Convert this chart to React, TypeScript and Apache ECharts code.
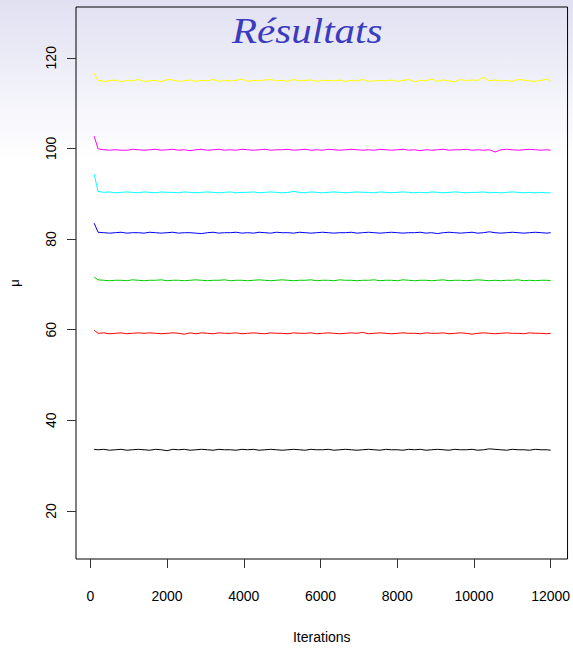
import React, { useEffect, useRef } from "react";
import * as echarts from "echarts";

const iterations = [
  100, 200, 350, 500, 650, 800, 950, 1100, 1250, 1400,
  1550, 1700, 1850, 2000, 2150, 2300, 2450, 2600, 2750, 2900,
  3050, 3200, 3350, 3500, 3650, 3800, 3950, 4100, 4250, 4400,
  4550, 4700, 4850, 5000, 5150, 5300, 5450, 5600, 5750, 5900,
  6050, 6200, 6350, 6500, 6650, 6800, 6950, 7100, 7250, 7400,
  7550, 7700, 7850, 8000, 8150, 8300, 8450, 8600, 8750, 8900,
  9050, 9200, 9350, 9500, 9650, 9800, 9950, 10100, 10250, 10400,
  10550, 10700, 10850, 11000, 11150, 11300, 11450, 11600, 11750, 11900,
  12000,
];

const muBlack = [
  33.6, 33.5, 33.6, 33.4, 33.5, 33.6, 33.4, 33.5, 33.6, 33.5,
  33.4, 33.6, 33.5, 33.3, 33.6, 33.5, 33.6, 33.4, 33.5, 33.6,
  33.5, 33.4, 33.6, 33.5, 33.5, 33.4, 33.6, 33.5, 33.6, 33.4,
  33.5, 33.6, 33.5, 33.4, 33.5, 33.6, 33.5, 33.4, 33.6, 33.5,
  33.5, 33.6, 33.4, 33.5, 33.6, 33.5, 33.4, 33.5, 33.6, 33.5,
  33.4, 33.6, 33.5, 33.5, 33.4, 33.6, 33.5, 33.6, 33.4, 33.5,
  33.6, 33.5, 33.4, 33.6, 33.5, 33.5, 33.6, 33.4, 33.5, 33.7,
  33.6, 33.5, 33.4, 33.6, 33.5, 33.5, 33.4, 33.6, 33.5, 33.5,
  33.4,
];

const muRed = [
  59.9, 59.2, 59.3, 59.1, 59.2, 59.3, 59.1, 59.2, 59.3, 59.2,
  59.3, 59.2, 59.1, 59.2, 59.3, 59.2, 59.0, 59.3, 59.1, 59.3,
  59.2, 59.1, 59.3, 59.2, 59.2, 59.3, 59.1, 59.2, 59.3, 59.2,
  59.1, 59.3, 59.2, 59.2, 59.1, 59.3, 59.2, 59.2, 59.3, 59.1,
  59.2, 59.3, 59.2, 59.1, 59.2, 59.3, 59.2, 59.4, 59.1, 59.2,
  59.3, 59.2, 59.1, 59.2, 59.3, 59.2, 59.2, 59.1, 59.3, 59.2,
  59.2, 59.3, 59.1, 59.2, 59.3, 59.2, 59.0, 59.2, 59.3, 59.2,
  59.1, 59.2, 59.3, 59.2, 59.2, 59.1, 59.3, 59.2, 59.2, 59.1,
  59.2,
];

const muGreen = [
  71.6, 71.0, 70.9, 70.8, 70.9, 70.9, 70.8, 71.0, 70.9, 70.8,
  70.9, 70.9, 71.0, 70.8, 70.9, 70.9, 70.8, 70.9, 71.0, 70.9,
  70.8, 70.9, 70.9, 71.0, 70.8, 70.9, 70.9, 70.8, 70.9, 71.0,
  70.9, 70.8, 70.9, 71.0, 70.9, 70.8, 70.9, 70.9, 71.0, 70.8,
  70.9, 70.9, 70.8, 71.0, 70.9, 70.9, 70.8, 70.9, 70.9, 71.0,
  70.8, 70.9, 70.9, 70.8, 71.0, 70.9, 70.8, 70.9, 70.9, 70.8,
  70.9, 71.0, 70.8, 70.9, 70.9, 70.8, 70.9, 71.0, 70.9, 70.8,
  70.9, 70.8, 70.9, 70.9, 71.0, 70.8, 70.9, 70.8, 70.9, 70.9,
  70.8,
];

const muBlue = [
  83.5, 81.5, 81.4, 81.3, 81.4, 81.5, 81.3, 81.4, 81.4, 81.3,
  81.5, 81.4, 81.3, 81.4, 81.5, 81.3, 81.4, 81.4, 81.3, 81.2,
  81.4, 81.5, 81.3, 81.4, 81.4, 81.5, 81.3, 81.4, 81.3, 81.5,
  81.4, 81.3, 81.5, 81.4, 81.4, 81.3, 81.5, 81.4, 81.3, 81.4,
  81.5, 81.4, 81.3, 81.4, 81.4, 81.5, 81.3, 81.4, 81.5, 81.4,
  81.3, 81.4, 81.5, 81.4, 81.3, 81.4, 81.4, 81.5, 81.3, 81.4,
  81.2, 81.4, 81.5, 81.4, 81.3, 81.4, 81.5, 81.3, 81.4, 81.6,
  81.4, 81.3, 81.4, 81.5, 81.4, 81.3, 81.4, 81.5, 81.4, 81.3,
  81.4,
];

const muCyan = [
  94.3, 90.5, 90.3, 90.4, 90.2, 90.3, 90.4, 90.3, 90.2, 90.4,
  90.3, 90.2, 90.4, 90.3, 90.3, 90.2, 90.4, 90.3, 90.2, 90.3,
  90.4, 90.3, 90.2, 90.3, 90.4, 90.2, 90.3, 90.3, 90.4, 90.2,
  90.3, 90.4, 90.3, 90.2, 90.3, 90.5, 90.3, 90.2, 90.4, 90.3,
  90.2, 90.3, 90.4, 90.3, 90.2, 90.3, 90.4, 90.3, 90.3, 90.2,
  90.4, 90.3, 90.2, 90.3, 90.4, 90.3, 90.2, 90.3, 90.2, 90.4,
  90.3, 90.2, 90.3, 90.4, 90.3, 90.2, 90.3, 90.3, 90.4, 90.2,
  90.3, 90.2, 90.3, 90.4, 90.3, 90.2, 90.3, 90.2, 90.3, 90.2,
  90.2,
];

const muMagenta = [
  102.7, 99.9, 99.7, 99.6, 99.7, 99.6, 99.6, 99.8, 99.7, 99.6,
  99.7, 99.8, 99.6, 99.7, 99.8, 99.6, 99.7, 99.5, 99.7, 99.8,
  99.6, 99.7, 99.8, 99.6, 99.7, 99.6, 99.8, 99.7, 99.6, 99.7,
  99.8, 99.6, 99.7, 99.7, 99.8, 99.6, 99.7, 99.8, 99.6, 99.7,
  99.6, 99.8, 99.7, 99.6, 99.7, 99.8, 99.7, 99.6, 99.7, 99.6,
  99.8, 99.7, 99.6, 99.7, 99.8, 99.6, 99.7, 99.5, 99.7, 99.6,
  99.7, 99.8, 99.6, 99.7, 99.7, 99.8, 99.6, 99.7, 99.6, 99.7,
  99.2, 99.7, 99.8, 99.7, 99.6, 99.7, 99.8, 99.7, 99.6, 99.7,
  99.6,
];

const muYellow = [
  116.6, 115.0, 114.8, 114.9, 115.1, 114.7, 115.0, 114.9, 115.2, 114.8,
  114.9, 115.0, 114.7, 115.2, 115.1, 114.8, 114.9, 115.1, 114.8, 115.0,
  114.9, 115.2, 114.8, 115.0, 114.9, 115.0, 115.3, 114.8, 115.0, 114.9,
  115.1, 115.2, 114.9, 115.0, 114.8, 115.2, 114.9, 115.0, 115.1, 114.8,
  115.0, 115.0, 114.9, 115.1, 114.8, 115.0, 114.9, 115.2, 114.8, 114.9,
  115.0, 114.9, 115.1, 114.8, 115.0, 115.2, 114.7, 115.0, 114.9, 115.3,
  114.8, 115.1, 114.9, 114.7, 115.2, 114.9, 115.1, 115.0, 115.7, 114.9,
  115.1, 114.9, 115.0, 114.8, 115.2, 115.1, 114.9, 114.8, 115.0, 115.3,
  114.9,
];

const seriesValues = [muBlack, muRed, muGreen, muBlue, muCyan, muMagenta, muYellow];
const seriesColors = ["#000000", "#ff0000", "#00cd00", "#0000ff", "#00ffff", "#ff00ff", "#ffff00"];

const xTicks = [0, 2000, 4000, 6000, 8000, 10000, 12000];
const yTicks = [20, 40, 60, 80, 100, 120];

const titleText = "Résultats";
const xName = "Iterations";
const yName = "μ";

export default function App() {
  const ref = useRef<HTMLDivElement>(null);

  useEffect(() => {
    if (!ref.current) return;
    const chart = echarts.init(ref.current, undefined, { renderer: "svg" });
    const font = "'Liberation Sans', Arial, sans-serif";
    chart.setOption({
      animation: false,
      backgroundColor: "transparent",
      grid: {
        left: 72,
        top: 7,
        right: 3,
        bottom: 85,
        show: true,
        borderColor: "#000",
        borderWidth: 1,
        backgroundColor: "transparent",
      },
      xAxis: {
        type: "value",
        min: -374,
        max: 12440,
        name: xName,
        nameLocation: "middle",
        nameGap: 71,
        nameTextStyle: { fontFamily: font, fontSize: 14, color: "#000" },
        axisLine: { show: false, onZero: false },
        splitLine: { show: false },
        axisTick: {
          show: true,
          length: 9,
          customValues: xTicks,
          lineStyle: { color: "#333", width: 1 },
        },
        axisLabel: {
          customValues: xTicks,
          formatter: (v: number) => String(v),
          fontFamily: font,
          fontSize: 14,
          color: "#000",
          margin: 30,
        },
      },
      yAxis: {
        type: "value",
        min: 9.4,
        max: 131.2,
        name: yName,
        nameLocation: "middle",
        nameRotate: 90,
        nameGap: 55,
        nameTextStyle: { fontFamily: font, fontSize: 13, color: "#000" },
        axisLine: { show: false, onZero: false },
        splitLine: { show: false },
        axisTick: {
          show: true,
          length: 9,
          customValues: yTicks,
          lineStyle: { color: "#333", width: 1 },
        },
        axisLabel: {
          customValues: yTicks,
          formatter: (v: number) => String(v),
          rotate: 90,
          fontFamily: font,
          fontSize: 14,
          color: "#000",
          margin: 18,
        },
      },
      graphic: [
        {
          type: "text",
          x: 232,
          y: 13,
          scaleX: 1.14,
          style: {
            text: titleText,
            fontFamily: "'Liberation Serif', 'Times New Roman', serif",
            fontStyle: "italic",
            fontSize: 36,
            fill: "#3b3bbf",
          },
          z: 10,
        },
      ],
      series: seriesValues.map((vals, i) => ({
        type: "line",
        data: iterations.map((it, j) => [it, vals[j]]),
        showSymbol: false,
        symbol: "none",
        lineStyle: { color: seriesColors[i], width: 1 },
        itemStyle: { color: seriesColors[i] },
      })),
    });
    return () => chart.dispose();
  }, []);

  return (
    <div
      style={{
        position: "fixed",
        left: 0,
        top: 0,
        width: 573,
        height: 649,
        background: "linear-gradient(to bottom, #e0e0f2 0px, #f2f2fa 90px, #ffffff 160px)",
      }}
    >
      <div ref={ref} style={{ width: 573, height: 649 }} />
    </div>
  );
}
